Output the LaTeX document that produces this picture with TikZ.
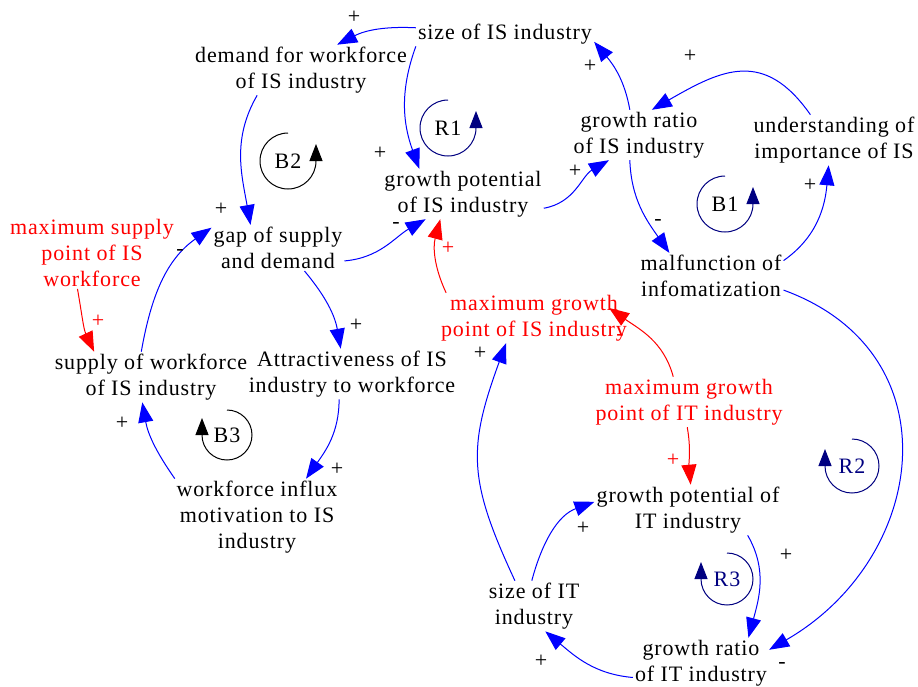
\documentclass[tikz,border=0pt]{standalone}
\usepackage{fontspec}
\setmainfont{Liberation Serif}[LetterSpace=4]
\usetikzlibrary{arrows.meta,positioning,calc}
\definecolor{navy}{RGB}{0,0,128}

\begin{document}
\begin{tikzpicture}[x=1pt,y=1pt,
  var/.style={inner sep=2pt,align=center,font=\fontsize{22}{26}\selectfont},
  ext/.style={var,text=red},
  pol/.style={inner sep=0pt,font=\fontsize{22}{26}\selectfont},
  link/.style={every edge/.style={draw,color=blue,line width=1pt,-{Triangle[length=20pt,width=15pt]}}},
  cue/.style={every edge/.style={draw,color=red,line width=1pt,-{Triangle[length=20pt,width=15pt]}}},
  loopmark/.style={line width=1pt,-{Triangle[length=17pt,width=13pt]}}]
\useasboundingbox (0,0) rectangle (918,-686);

% variables
\node[var] (sizeIS) at (505,-34) {size of IS industry};
\node[var] (demandWF) at (301,-70) {demand for workforce\\of IS industry};
\node[var] (potIS) at (463,-194) {growth potential\\of IS industry};
\node[var] (ratioIS) at (639,-135) {growth ratio\\of IS industry};
\node[var] (underst) at (834,-140) {understanding of\\importance of IS};
\node[var] (malfunc) at (711,-276) {malfunction of\\infomatization};
\node[var] (gap) at (278,-248) {gap of supply\\and demand};
\node[ext] (maxSupply) at (92,-253) {maximum supply\\point of IS\\workforce};
\node[var] (supplyWF) at (151,-377) {supply of workforce\\of IS industry};
\node[var] (attract) at (352,-374) {Attractiveness of IS\\industry to workforce};
\node[var] (influx) at (257,-517) {workforce influx\\motivation to IS\\industry};
\node[ext] (maxIS) at (534,-318) {maximum growth\\point of IS industry};
\node[ext] (maxIT) at (689,-402) {maximum growth\\point of IT industry};
\node[var] (potIT) at (688,-510) {growth potential of\\IT industry};
\node[var] (sizeIT) at (534,-606) {size of IT\\industry};
\node[var] (ratioIT) at (701,-663) {growth ratio\\of IT industry};

% causal links
\path[link]
(sizeIS.176) edge[bend right=15] (demandWF.35)
(sizeIS.south west) edge[out=250,in=110] (potIS.150)
(demandWF.210) edge[out=240,in=100] (gap.140)
(gap.-11) edge[out=5,in=210] (potIS.214)
(potIS.-10) edge[out=10,in=210] (ratioIS.220)
(ratioIS.110) edge[out=100,in=-50] (sizeIS.-5)
(underst.133) edge[out=125,in=30,looseness=1.3] (ratioIS.63)
(ratioIS.250) edge[out=-88,in=125] (malfunc.151)
(malfunc.12) edge[out=35,in=-95] (underst.258)
(malfunc.-11) edge[out=-20,in=30,looseness=1.3] (ratioIT.11)
(supplyWF.111) edge[out=80,in=-145] (gap.163)
(gap.-41) edge[out=-50,in=100] (attract.114)
(attract.243) edge[out=-90,in=55] (influx.38)
(influx.155) edge[out=125,in=-80] (supplyWF.251)
(sizeIT.127) edge[out=115,in=-110,looseness=1.2] (maxIS.222)
(sizeIT.95) edge[out=75,in=-160] (potIT.175)
(potIT.-23) edge[out=-60,in=75] (ratioIT.28)
(ratioIT.192) edge[out=175,in=-40] (sizeIT.294)
;
\path[cue]
(maxSupply.248) edge[out=-80,in=115] (supplyWF.156)
(maxIS.164) edge[out=115,in=-105] (potIS.228)
(maxIT.122) edge[out=105,in=-35] ($(maxIS.east)+(-20,10)$)
(maxIT.266) edge[out=-80,in=95] (potIT.84)
;

% polarities
\node[pol] (pol-a) at (354,-17) {+};
\node[pol] (pol-b) at (380,-153) {+};
\node[pol] (pol-c) at (221,-209) {+};
\node[pol] (pol-d) at (396,-225) {-};
\node[pol] (pol-e) at (575,-171) {+};
\node[pol] (pol-f) at (590,-66) {+};
\node[pol] (pol-g) at (690,-56) {+};
\node[pol] (pol-h) at (658,-222) {-};
\node[pol] (pol-i) at (810,-185) {+};
\node[pol] (pol-j) at (782,-665) {-};
\node[pol,red] (pol-k) at (98,-321) {+};
\node[pol] (pol-l) at (180,-252) {-};
\node[pol] (pol-m) at (356,-325) {+};
\node[pol] (pol-n) at (337,-469) {+};
\node[pol] (pol-o) at (122,-423) {+};
\node[pol,red] (pol-p) at (448,-248) {+};
\node[pol,red] (pol-q) at (620,-337) {-};
\node[pol,red] (pol-r) at (673,-460) {+};
\node[pol] (pol-s) at (480,-353) {+};
\node[pol] (pol-t) at (583,-528) {+};
\node[pol] (pol-u) at (786,-555) {+};
\node[pol] (pol-v) at (541,-661) {+};

% loop markers
\node[pol] (loopR1) at (448,-128) {R1};
\draw[loopmark,navy] (loopR1.center) ++(0,28) arc[start angle=90,end angle=360,radius=28] -- ++(0,17);
\node[pol] (loopB2) at (288,-161) {B2};
\draw[loopmark] (loopB2.center) ++(0,28) arc[start angle=90,end angle=360,radius=28] -- ++(0,17);
\node[pol] (loopB1) at (725,-204) {B1};
\draw[loopmark,navy] (loopB1.center) ++(0,28) arc[start angle=90,end angle=360,radius=28] -- ++(0,17);
\node[pol] (loopB3) at (227,-435) {B3};
\draw[loopmark] (loopB3.center) ++(0,25) arc[start angle=90,end angle=-180,radius=25] -- ++(0,17);
\node[pol,navy] (loopR2) at (852,-466) {R2};
\draw[loopmark,navy] (loopR2.center) ++(0,27) arc[start angle=90,end angle=-180,radius=27] -- ++(0,17);
\node[pol,navy] (loopR3) at (727,-579) {R3};
\draw[loopmark,navy] (loopR3.center) ++(0,26) arc[start angle=90,end angle=-180,radius=26] -- ++(0,17);
\end{tikzpicture}
\end{document}
